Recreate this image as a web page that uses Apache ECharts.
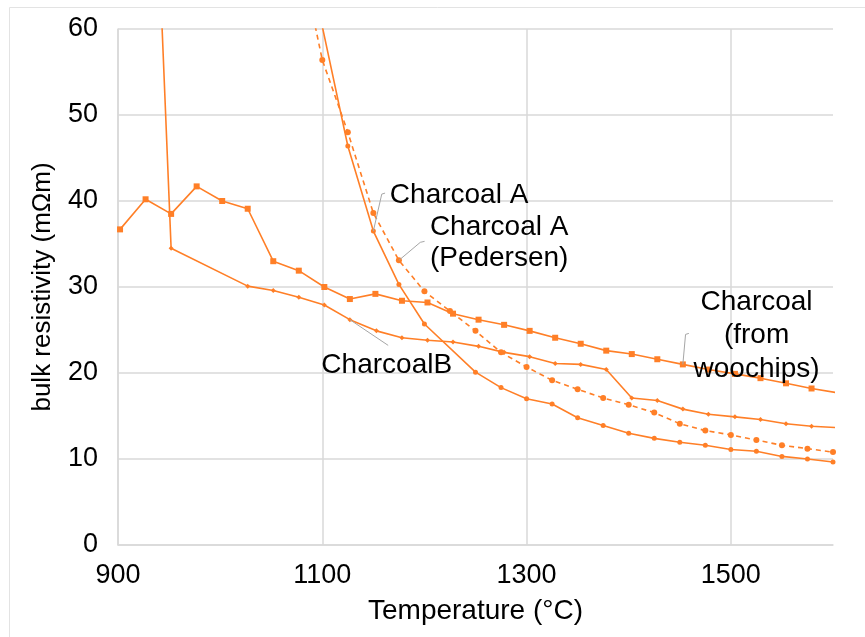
<!DOCTYPE html>
<html>
<head>
<meta charset="utf-8">
<script src="https://cdn.jsdelivr.net/npm/echarts@6/dist/echarts.min.js"></script>
<style>
html,body{margin:0;padding:0;background:#fff;}
#chart{width:865px;height:637px;}
</style>
</head>
<body>
<div id="chart"></div>
<script>
// ---- Data ----
// Charcoal (from woochips) — square markers
const xWood = [902,927,952,977,1002,1027,1052,1077,1102,1127,1152,1178,1203,1228,1253,1278,1303,1328,1353,1378,1403,1428,1453,1478,1504,1529,1554,1579,1604];
const yWood = [36.7,40.2,38.5,41.7,40.0,39.1,33.0,31.9,30.0,28.6,29.2,28.4,28.2,26.9,26.2,25.6,24.9,24.1,23.4,22.6,22.2,21.6,21.0,20.4,19.9,19.4,18.8,18.2,17.7];
// CharcoalB — small markers
const xB = [927,952,1027,1052,1077,1102,1127,1153,1178,1203,1228,1253,1278,1303,1328,1353,1378,1403,1428,1453,1478,1504,1529,1554,1579,1604];
const yB = [107,34.5,30.1,29.6,28.8,27.9,26.2,24.9,24.1,23.8,23.6,23.1,22.4,21.9,21.1,21.0,20.4,17.1,16.8,15.8,15.2,14.9,14.6,14.1,13.8,13.65];
// Charcoal A — solid
const xA = [1100,1125,1150,1175,1200,1250,1275,1300,1325,1350,1375,1400,1425,1450,1475,1500,1525,1550,1575,1600];
const yA = [60.3,46.4,36.5,30.3,25.7,20.1,18.3,17.0,16.4,14.8,13.9,13.0,12.4,11.95,11.6,11.1,10.9,10.3,10.0,9.65];
// Charcoal A (Pedersen) — dashed
const xP = [1075,1100,1125,1150,1175,1200,1225,1250,1275,1300,1325,1350,1375,1400,1425,1450,1475,1500,1525,1550,1575,1600];
const yP = [70.6,56.4,48.0,38.6,33.1,29.5,27.2,24.9,22.4,20.7,19.15,18.1,17.1,16.3,15.4,14.1,13.3,12.8,12.2,11.6,11.2,10.8];

const xTicks = [900,1100,1300,1500];
const yTicks = [0,10,20,30,40,50,60];

const ORANGE = '#FF7F27';
const FONT = 'Liberation Sans, Arial, sans-serif';

function pairs(xs, ys){ return xs.map((x,i)=>[x, ys[i]]); }

const chart = echarts.init(document.getElementById('chart'), null, {renderer:'canvas'});

function lineSeries(name, xs, ys, symbol, size, dashed){
  return {
    name, type:'line', data: pairs(xs, ys),
    symbol, symbolSize:size, showAllSymbol:true,
    clip:true, animation:false,
    lineStyle:{color:ORANGE, width:1.6, type: dashed ? [5,4] : 'solid'},
    itemStyle:{color:ORANGE},
    emphasis:{disabled:true}
  };
}

const option = {
  animation:false,
  backgroundColor:'#fff',
  grid:{left:118, right:32, top:29, bottom:92, containLabel:false},
  xAxis:{
    type:'value', min:900, max:1600, interval:200,
    name:'Temperature (°C)', nameLocation:'middle', nameGap:52,
    nameTextStyle:{fontFamily:FONT, fontSize:28, color:'#000'},
    axisLine:{show:true, lineStyle:{color:'#D9D9D9', width:1.5}},
    axisTick:{show:false},
    axisLabel:{fontFamily:FONT, fontSize:27, color:'#000', margin:17, showMaxLabel:false,
      formatter: v => xTicks.includes(v) ? String(v) : ''},
    splitLine:{show:true, showMaxLine:false, lineStyle:{color:'#D9D9D9', width:1.5}}
  },
  yAxis:{
    type:'value', min:0, max:60, interval:10,
    name:'bulk resistivity (mΩm)', nameLocation:'middle', nameGap:62,
    nameTextStyle:{fontFamily:FONT, fontSize:26, color:'#000'},
    axisLine:{show:true, lineStyle:{color:'#D9D9D9', width:1.5}},
    axisTick:{show:false},
    axisLabel:{fontFamily:FONT, fontSize:27, color:'#000', margin:20,
      formatter: v => yTicks.includes(v) ? String(v) : ''},
    splitLine:{show:true, lineStyle:{color:'#D9D9D9', width:1.5}}
  },
  series:[
    lineSeries('Charcoal (from woochips)', xWood, yWood, 'rect', 6, false),
    lineSeries('CharcoalB', xB, yB, 'diamond', 5, false),
    lineSeries('Charcoal A', xA, yA, 'circle', 5, false),
    lineSeries('Charcoal A (Pedersen)', xP, yP, 'circle', 6, true)
  ]
};
chart.setOption(option);

// ---- Annotations anchored to data points ----
function px(x, y){ return chart.convertToPixel({gridIndex:0}, [x, y]); }
const LEAD = '#A6A6A6';
const textStyleBase = {fontFamily:FONT, fontSize:28, fill:'#000'};

function leader(anchor, offs){
  const pts = [anchor].concat(offs.map(o => [anchor[0]+o[0], anchor[1]+o[1]]));
  return {type:'polyline', shape:{points:pts}, style:{stroke:LEAD, lineWidth:1, fill:null}, z:50};
}

const aA = px(xA[2], yA[2]);
const aP = px(xP[4], yP[4]);
const aB = px(xB[6], yB[6]);
const aW = px(xWood[22], yWood[22]);

const graphics = [
  {type:'rect', shape:{x:9.5, y:7.5, width:900, height:700}, style:{stroke:'#E3E3E3', lineWidth:1, fill:null}, silent:true, z:0},
  leader(aA, [[8.4,-37],[11.7,-38]]),
  {type:'text', x:aA[0]+16.5, y:aA[1]-36, style:Object.assign({text:'Charcoal A', align:'left', verticalAlign:'middle'}, textStyleBase), z:60},
  leader(aP, [[21.4,-18],[25.7,-19]]),
  {type:'text', x:aP[0]+31, y:aP[1]-49, style:Object.assign({text:'Charcoal A\n(Pedersen)', align:'left', verticalAlign:'top', lineHeight:31}, textStyleBase), z:60},
  leader(aB, [[38.3,25.7]]),
  {type:'text', x:aB[0]-28.5, y:aB[1]+45.7, style:Object.assign({text:'CharcoalB', align:'left', verticalAlign:'middle'}, textStyleBase), z:60},
  leader(aW, [[2.7,-30],[6,-31]]),
  {type:'text', x:aW[0]+73.7, y:aW[1]-79, style:Object.assign({text:'Charcoal\n(from\nwoochips)', align:'center', verticalAlign:'top', lineHeight:33.5}, textStyleBase), z:60}
];
chart.setOption({graphic:graphics});
</script>
</body>
</html>
